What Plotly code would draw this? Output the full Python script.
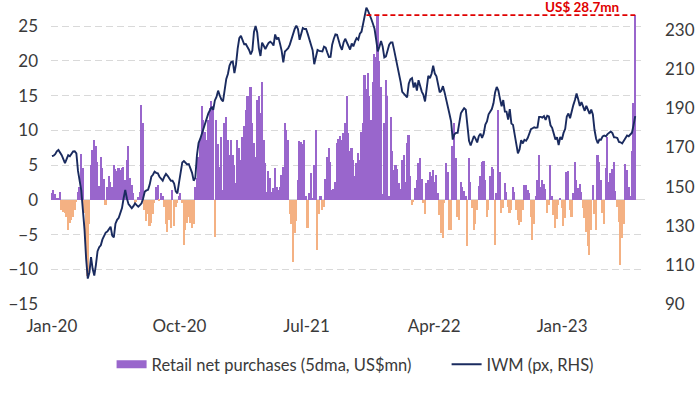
import pandas as pd
import plotly.graph_objects as go

# ---------------- data ----------------
# observations every 3.5 days starting 2020-01-01
start_date = "2020-01-01"
obs_step = "84h"

retail_net = [
    1.0, 1.4, 0.8, 0.2, 0.3, 1.2, -1.4, -1.7, -1.9, -2.4,
    -4.3, -3.4, -2.9, -2.4, -1.4, -0.3, 1.2, 1.9, 6.6, 4.6,
    -1.9, -6, -11, -3.5, 5, 7.2, 8.6, 7.7, 5.5, 2.0,
    6.2, 4.6, 3.0, -0.7, 1.9, 3.4, 2.6, 1.9, 5, 4.5,
    4.2, 4.6, 4.3, 4.6, 4.8, 2.9, 5.8, 7.7, 3.2, 2.2,
    1.0, -0.5, -0.3, 0.4, 1.2, 13.7, 11, -1.5, -3.1, -2,
    -3.8, -3.4, -2, -0.5, 1.9, 2.2, -0.2, 1, 0.5, -1,
    -3.5, -4.7, -2.9, -4, 1.4, -3.8, -1, -0.5, 0.5, 1,
    -0.5, -6.5, -4.3, -3.4, -2.4, -3.3, -4, -3.5, 1.9, 3.2,
    6.2, 8.6, 13.5, 11.5, 9.8, 8.6, 11.5, 13.2, 14.3, 13.5,
    -5.3, 11.5, 8, 4.8, 9.1, 1.4, 11, 12, 8.6, 6.5,
    8.6, 6.5, 5, 2.4, 8.6, 7.5, 5.8, 9.1, 10.6, 13,
    15, 14.9, 16.3, 11, 8.2, 6.2, 14.4, 14.9, 12.5, 17,
    8.6, 5.3, 1.2, 4.2, 3.1, 1.2, 1.7, 4.6, 1.9, 1.4,
    1.9, 3.6, 4.8, 11, 10, 8.6, -2,
    -3.5, -9, -4.8, -3, 2.8, 8.5, 8.4, 8, 8.6, 0.5,
    -4, 1, 3.8, 0.3, 5, 10, -7.2, -2, 0.5, -1.5,
    -1.0, 3, 6.2, 7.5, 5.5, 1.4, 1.5, 2.5, 8.2, 8.8,
    9.2, 8.6, 9.6, 11, 15, 9.6, 7, 7.5, 5.8, 3.5,
    5.3, 6.8, 5.8, 9.8, 11, 18, 16, 18.2, 15, 11.5,
    17, 21, 20.6, 26.6, 20, 16.3, 0.8, 11, 17.3, 15,
    0.5, 12, 7, 4.3, 5.0, 4.4, 2.4, 1.5, 5.8, 6.5,
    2.5, 8.2, 9.3,
    3.4, -0.7, -0.3, 1.7, 2.9, 5.3, 6, 3, -0.5, -2,
    2.4, 2.9, 4, 3.4, 4.3, 2.5, 3.6, 1.0, -2.2, -4.8,
    -5.5, -0.5, 5.3, 4, -4.3, -4.4, 7.7, 11, 6, -2.4,
    -2.9, 2.6, 1.9, 1.3, 0.5, -6.7, 6, 2.5, -1.2, -4.3,
    -3.5, -1.5, 2, 3.4, 5.5, 5.6, 2.9, -2.5, -1.5, 3.4,
    4.8, 4.5, -6.5, 1.0, 13, 4, -1.9, -1.2, 2.4, 1.2,
    -1, -1.9, -1.4, 1.9, 1.2, -1.5, -2.9, -3.6, -3.2, -1.5,
    2.2, 2.2, 1.4, 1.0,
    -2.4, -5.8, -3.5, 0.5, 2.9, 6.4, 1.9, 2.8, 2.3, 1.5,
    -1.9, -0.8, 5, 0.5, -2.2, -4, -2.8, -0.8, 0.3, -1.2,
    -3.8, -2.6, 4, 4.2, -1.5, -2.5, 1.0, 5.5, 2.9, 1.7,
    2.3, 1.2, -1.2, -2.6, -4.6, -6.7, -8, -4.3, 2.2, -2,
    -4.3, 6.5, 5.5, 2.9, -1.9, -3.5, 4.6, 9.1, 2.6, 3.8,
    4.5, 5.5, 1.3, -1, -3.2, -9.4, -5.5, -3.5, 5.2, 4.3,
    1.9, 0.5, 7, 13.9, 26.6,
]

iwm_px = [
    165.6, 165.8, 166.5, 168, 168.7, 167.5, 166, 164, 161.9, 164,
    166, 165.5, 167, 167.9, 168, 167, 158, 153, 148, 138,
    128, 113, 103, 106, 114, 108, 104.5, 110, 117, 119,
    120, 123, 125, 126.5, 127, 128, 129.5, 125, 124, 131,
    133, 134, 136, 139, 144, 148.3, 144, 141, 140, 138.9,
    140, 141.4, 140.5, 139.7, 140.5, 141.4, 144, 147.4, 148, 148.3,
    151, 155, 156, 157.6, 157, 156.8, 155, 154, 153, 155,
    156.5, 155.5, 154.5, 153, 153, 151.5, 147.5, 146.5, 152, 158,
    162.3, 163, 162.2, 161.3, 161.5, 159.5, 157, 153, 154.5, 166,
    172.3, 174.3, 177.2, 179.2, 182.4, 185.1, 187.4, 189, 190.7, 189.2,
    194, 195.8, 199, 196.5, 194.5, 193.5, 199.5, 205, 207.5, 211.8,
    213.6, 213.9, 208, 212.5, 220.5, 225.8, 227, 225.2, 222.7, 222.8,
    221.5, 219.8, 217.5, 219.5, 229, 232, 228.7, 220.6, 216.7, 223.5,
    221.9, 220.3, 221.9, 223.4, 224, 223.3, 222, 227.7, 225.2, 226.2,
    222.9, 219.3, 213.4, 219, 219.8, 220.7, 222.5,
    225.3, 228, 230.5, 232.2, 230.5, 225, 227.5, 231, 230.5, 230.5,
    228, 225.5, 223, 219.7, 212.5, 216.5, 219.8, 219.3, 219, 219,
    221.5, 221, 218.5, 216.2, 216.3, 222.5, 225.5, 227.7, 227.5, 224.3,
    221.7, 219.8, 223.6, 225.5, 223.7, 221.3, 220, 223.1, 221.6, 224,
    225.8, 225, 228.1, 229.1, 233, 237.2, 241.4, 239.8, 238, 235.6,
    233.2, 230.6, 225, 219, 221.4, 224.4, 221.5, 216, 216.5, 220.1,
    222.5, 223.6, 223.6, 219.8, 216, 212.7, 208, 203.5, 198.4, 197.4,
    197, 195.6, 202.5,
    204.8, 205.4, 200.6, 203.1, 199, 204.3, 201, 198.5, 196.8, 193.5,
    200, 206.6, 205.4, 207.6, 211.7, 207.7, 206.3, 201.3, 198.2, 199,
    201.3, 198.1, 193.8, 189.6, 187.1, 183.2, 174, 176.7, 177.4, 177.4,
    182.9, 187.4, 188.8, 190, 189.3, 182.5, 173.4, 171, 174, 175.8,
    174.5, 172.5, 175.8, 177, 174.9, 177, 181.7, 183.3, 186.9, 188.5,
    189.6, 192.5, 198.1, 200.9, 199, 194.8, 191, 194.2, 188.3, 188.3,
    184.2, 189.6, 182.2, 181.5, 175.5, 171.8, 167, 169, 173.7, 172,
    173.9, 173.4, 174.8, 177.3,
    179.3, 179.8, 180.3, 180, 180.2, 185.6, 185.6, 185.2, 186, 184,
    186.2, 185.8, 181.3, 180, 177.6, 174.1, 175.2, 171.2, 175.3, 174,
    177.4, 179.4, 185.8, 187.3, 184.9, 189.1, 191.6, 194.2, 197.5, 194.6,
    191.2, 193.1, 191.2, 188.7, 191.2, 189.4, 187.1, 189.3, 186.8, 179,
    174.4, 172.1, 174, 173.9, 175.6, 176.1, 175.7, 176.8, 177.6, 178.1,
    177.3, 175.1, 175.1, 174.8, 172.8, 172.6, 172, 173.5, 174.5, 176.1,
    175.7, 176.6, 177.5, 181.5, 186,
]

tick_dates = ["2020-01-01", "2020-10-01", "2021-07-01", "2022-04-01", "2023-01-01"]
tick_labels = ["Jan-20", "Oct-20", "Jul-21", "Apr-22", "Jan-23"]
left_ticks = [-15, -10, -5, 0, 5, 10, 15, 20, 25]
right_ticks = [90, 110, 130, 150, 170, 190, 210, 230]
latest_label = "US$ 28.7mn"
bar_name = "Retail net purchases (5dma, US$mn)"
line_name = "IWM (px, RHS)"

# ---------------- styling ----------------
PURPLE = "#9966CC"
ORANGE = "#F4B183"
NAVY = "#1A2B5F"
RED = "#E00000"
TXT = "#3A3A3A"
GRID = "#D9D9D9"
FONT = "Lato"

dates = pd.date_range(start=start_date, periods=len(iwm_px), freq=obs_step)
bar_colors = [PURPLE if v >= 0 else ORANGE for v in retail_net]

fig = go.Figure()
fig.add_trace(go.Bar(
    x=dates, y=retail_net, marker=dict(color=bar_colors, line=dict(width=0)),
    name=bar_name, showlegend=False, yaxis="y",
))
# legend entry for the bars (wide swatch like the original)
fig.add_trace(go.Scatter(
    x=[None], y=[None], mode="lines", line=dict(color=PURPLE, width=8),
    name=bar_name, showlegend=True, yaxis="y", legend="legend",
))
fig.add_trace(go.Scatter(
    x=dates, y=iwm_px, mode="lines", line=dict(color=NAVY, width=1.9),
    name=line_name, yaxis="y2", legend="legend2",
))

peak_idx = max(range(len(iwm_px)), key=lambda i: iwm_px[i])
fig.add_shape(
    type="line", xref="x", yref="y",
    x0=dates[peak_idx], x1=dates[-1], y0=retail_net[-1], y1=retail_net[-1],
    line=dict(color=RED, width=1.6, dash="5px,3px"),
)
fig.add_annotation(
    text="<b>" + latest_label + "</b>", xref="paper", yref="paper",
    x=0.894, y=1, xanchor="center", yanchor="top", yshift=3,
    showarrow=False, font=dict(family=FONT, size=13.5, color=RED),
)

legend_style = dict(
    orientation="h", xanchor="left",
    yref="container", y=0.075, yanchor="middle",
    font=dict(family=FONT, size=16.5, color=TXT),
    bgcolor="rgba(0,0,0,0)", itemwidth=30,
)

fig.update_layout(
    width=700, height=394, autosize=False,
    margin=dict(l=51, r=55, t=0, b=90, autoexpand=False),
    paper_bgcolor="white", plot_bgcolor="white",
    bargap=0,
    font=dict(family=FONT, size=17, color=TXT),
    xaxis=dict(
        type="date", range=["2019-12-30", "2023-06-28"],
        tickvals=tick_dates, ticktext=tick_labels, automargin=False,
        showgrid=False, zeroline=False, showline=False, ticks="",
        ticklabelstandoff=10, tickfont=dict(size=17),
    ),
    yaxis=dict(
        range=[-15, 28.78], tickvals=left_ticks, automargin=False,
        showgrid=True, gridcolor=GRID, griddash="7px,4px", gridwidth=1,
        zeroline=True, zerolinecolor=GRID, zerolinewidth=1,
        showline=False, ticks="", ticklabelstandoff=12, tickfont=dict(size=17),
    ),
    yaxis2=dict(
        range=[90, 245.3], tickvals=right_ticks, overlaying="y", side="right",
        automargin=False,
        showgrid=False, zeroline=False, showline=False, ticks="",
        ticklabelstandoff=19, tickfont=dict(size=17),
    ),
    legend=dict(x=0.102, **legend_style),
    legend2=dict(x=0.666, **legend_style),
)

# the page's default body margin would offset the figure; remove it
fig.write_html(
    "out.html",
    config={"displayModeBar": False},
    post_script="document.body.style.margin='0px';document.body.style.overflow='hidden';",
)
